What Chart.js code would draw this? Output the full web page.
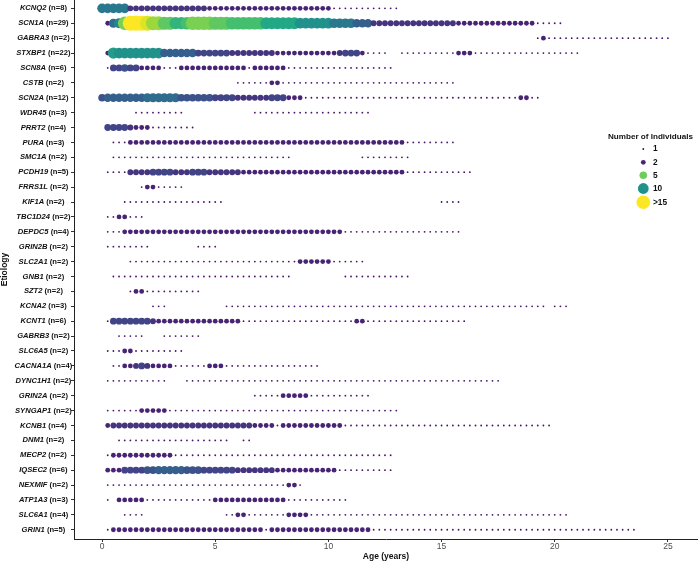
<!DOCTYPE html>
<html><head><meta charset="utf-8">
<script src="https://cdn.jsdelivr.net/npm/chart.js@4"></script>
<style>html,body{margin:0;padding:0;background:#fff;}#wrap{width:698px;height:562px;}</style>
</head><body><div id="wrap"><canvas id="c" width="698" height="562"></canvas></div>
<script>
// ---------- DATA ----------
const genes = ['KCNQ2','SCN1A','GABRA3','STXBP1','SCN8A','CSTB','SCN2A','WDR45','PRRT2','PURA','SMC1A','PCDH19','FRRS1L','KIF1A','TBC1D24','DEPDC5','GRIN2B','SLC2A1','GNB1','SZT2','KCNA2','KCNT1','GABRB3','SLC6A5','CACNA1A','DYNC1H1','GRIN2A','SYNGAP1','KCNB1','DNM1','MECP2','IQSEC2','NEXMIF','ATP1A3','SLC6A1','GRIN1'];
const nIndividuals = [8,29,2,22,6,2,12,3,4,3,2,5,2,2,2,4,2,2,2,2,3,6,2,2,4,2,2,2,4,2,2,6,2,3,4,5];
// age (in quarter-years) of the first dot of each row
const firstQuarter = [0,1,77,1,1,24,0,6,1,2,2,1,7,4,1,1,1,5,2,5,9,1,3,1,2,1,27,1,1,3,1,1,1,1,4,1];
// number of individuals at each successive quarter-year (base-36 digit; '-' = no dot)
const quarterCounts = [
 '88888'+'3333333333'+'3333'+'2222222222'+'2222222222'+'22'+'1111111111'+'11',
 '279gkkkjhhffdde'+'gggg'+'fff'+'eeeeee'+'cccccc'+'aaaaaa'+'8888'+'666'+'3333333333'+'33333'+'2222222222'+'2222'+'11111',
 '12'+'1111111111'+'1111111111'+'11',
 '2b'+'aaaaaaaa'+'666666'+'444444'+'33333333'+'22222222222'+'3'+'444'+'2'+'1111'+'--'+'1111111111'+'222'+'1111111111'+'111111111',
 '1'+'44544'+'2222'+'111'+'2222222222'+'22'+'1'+'222222'+'1111111111'+'111111111',
 '111111'+'22'+'1111111111'+'1111111111'+'1111111111'+'1',
 '5'+'6666666'+'777777'+'555555'+'4444'+'333333'+'444'+'222'+'1111111111'+'1111111111'+'1111111111'+'11111111'+'22'+'11',
 '111111111'+'------------'+'1111111111'+'1111111111'+'1',
 '44443'+'222'+'11111111',
 '111'+'2222222222'+'2222222222'+'2222222222'+'2222222222'+'222222222'+'111111111',
 '1111111111'+'1111111111'+'1111111111'+'11'+'------------'+'111111111',
 '1111'+'3333'+'4444'+'333'+'444'+'333333'+'2222222222'+'2222222222'+'222222222'+'111111111111',
 '1'+'22'+'11111',
 '1111111111'+'11111111'+'----------'+'----------'+'----------'+'--------'+'1111',
 '11'+'22'+'111',
 '111'+'2222222222'+'2222222222'+'2222222222'+'222222222'+'1111111111'+'1111111111'+'1',
 '11111111'+'--------'+'1111',
 '1111111111'+'1111111111'+'1111111111'+'222222'+'111111',
 '1111111111'+'1111111111'+'1111111111'+'11'+'---------'+'111111111111',
 '1'+'22'+'1111111111',
 '111'+'----------'+'1111111111'+'1111111111'+'1111111111'+'1111111111'+'1111111111'+'1111111'+'-'+'111',
 '1'+'4444444'+'3'+'2222222222'+'22222'+'1111111111'+'1111111111'+'22'+'1111111111'+'11111111',
 '11111'+'---'+'1111111',
 '111'+'22'+'111111111',
 '11'+'22'+'343'+'2222'+'111111'+'222'+'1111111111'+'1111111',
 '1111111111'+'1'+'---'+'1111111111'+'1111111111'+'1111111111'+'1111111111'+'1111111111'+'111111',
 '11111'+'22222'+'11111111111',
 '111111'+'22222'+'1111111111'+'1111111111'+'1111111111'+'1111111111'+'1',
 '2'+'3333333333'+'3333333333'+'33333'+'2222'+'1'+'2222222222'+'2'+'1111111111'+'1111111111'+'1111111111'+'1111111',
 '1111111111'+'1111111111'+'--'+'11',
 '1'+'2222222222'+'2'+'1111111111'+'1111111111'+'1111111111'+'111111111',
 '222'+'4444'+'55'+'66666'+'555'+'444444'+'3333333'+'2222222222'+'2'+'1111111111',
 '1111111111'+'1111111111'+'1111111111'+'11'+'22'+'1',
 '1-'+'22222'+'111111111111'+'2222222222'+'222'+'11111111111',
 '1111'+'--------------'+'11'+'22'+'1111111'+'2222'+'1111111111'+'1111111111'+'1111111111'+'1111111111'+'111111',
 '1'+'2222222222'+'2222222222'+'2222222'+'1'+'2222222222'+'22222222'+'1111111111'+'1111111111'+'1111111111'+'1111111111'+'1111111'
];
const xTickValues = [0,5,10,15,20,25];
const legendLabels = ['1','2','5','10','>15'];
const legendCounts = [1,2,5,10,16];

// ---------- STYLE ----------
const FAM = '"Liberation Sans", Arial, Helvetica, sans-serif';
const VIR = ['#440154','#482475','#414487','#355f8d','#2a788e','#21918c','#22a884','#44bf70','#7ad151','#bddf26','#fde725'];
const legendColors = ['#440154','#482475','#6ccd5a','#21918c','#fde725'];
function hex(h){return [1,3,5].map(i=>parseInt(h.substr(i,2),16));}
function viridis(t){
  t=Math.max(0,Math.min(1,t)); const p=t*10; const i=Math.min(9,Math.floor(p)); const f=p-i;
  const a=hex(VIR[i]), b=hex(VIR[i+1]);
  return 'rgb('+a.map((v,k)=>Math.round(v+(b[k]-v)*f)).join(',')+')';
}
const colorFor = c => viridis(c/20);
const radiusFor = c => c <= 1 ? 0.9 : 1.7*Math.sqrt(c);
const zeroPad = s => { s.paddingLeft = 0; s.paddingRight = 0; s.paddingTop = 0; s.paddingBottom = 0; };

// ---------- POINTS ----------
const points = [];
genes.forEach((g,row)=>{
  const s = quarterCounts[row];
  for (let k=0;k<s.length;k++){
    if (s[k]==='-') continue;
    points.push({x:(firstQuarter[row]+k)/4, y:row, count:parseInt(s[k],36)});
  }
});

const rowLabels = {
  id:'rowLabels',
  afterDraw(chart){
    const {ctx} = chart; const y = chart.scales.y;
    ctx.save(); ctx.fillStyle='#111'; ctx.textBaseline='middle'; ctx.textAlign='left';
    genes.forEach((g,i)=>{
      const py = y.getPixelForValue(i);
      const tail = ' (n='+nIndividuals[i]+')';
      ctx.font = 'bold 7.6px '+FAM; const wT = ctx.measureText(tail).width;
      ctx.font = 'italic bold 7.6px '+FAM; const wG = ctx.measureText(g).width;
      const left = 43.4 - (wT+wG)/2;
      ctx.fillText(g, left, py);
      ctx.font = 'bold 7.6px '+FAM; ctx.fillText(tail, left+wG, py);
    });
    ctx.restore();
  }
};
const sizeLegend = {
  id:'sizeLegend',
  afterDraw(chart){
    const {ctx} = chart;
    ctx.save(); ctx.fillStyle='#111'; ctx.textBaseline='middle'; ctx.textAlign='left';
    ctx.font='bold 8.1px '+FAM; ctx.fillText('Number of Individuals', 608, 137);
    const ys=[149,162.3,175.3,188.5,202.3];
    legendLabels.forEach((lab,i)=>{
      ctx.beginPath(); ctx.fillStyle=legendColors[i];
      ctx.arc(643.3, ys[i], radiusFor(legendCounts[i]), 0, Math.PI*2); ctx.fill();
      ctx.fillStyle='#111'; ctx.font='bold 8.3px '+FAM; ctx.fillText(lab, 653, ys[i]);
    });
    ctx.restore();
  }
};

new Chart(document.getElementById('c'), {
  type:'scatter',
  data:{datasets:[{
    data:points,
    pointRadius: c => radiusFor(c.raw.count),
    pointHoverRadius: c => radiusFor(c.raw.count),
    pointBackgroundColor: c => colorFor(c.raw.count),
    pointBorderWidth:0, pointHoverBorderWidth:0
  }]},
  options:{
    responsive:false, animation:false, devicePixelRatio:1, events:[],
    layout:{padding:0, autoPadding:false},
    plugins:{legend:{display:false}, tooltip:{enabled:false}},
    scales:{
      x:{type:'linear', position:'bottom', min:-1.24, max:26.33,
        afterBuildTicks: s => { s.ticks = xTickValues.map(v=>({value:v})); },
        afterFit: s => { s.height = 23; zeroPad(s); },
        grid:{display:true, drawOnChartArea:false, drawTicks:true, tickLength:3, tickColor:'#333', color:'#333'},
        border:{display:true, color:'#222', width:1},
        ticks:{color:'#4d4d4d', font:{family:FAM, size:8.5}, padding:0, maxRotation:0, autoSkip:false},
        title:{display:true, text:'Age (years)', color:'#111', font:{family:FAM, size:8.5, weight:'bold'}, padding:0}
      },
      y:{type:'linear', reverse:true, min:-0.56, max:35.62,
        afterBuildTicks: s => { s.ticks = genes.map((g,i)=>({value:i})); },
        afterFit: s => { s.width = 74; zeroPad(s); },
        grid:{display:true, drawOnChartArea:false, drawTicks:true, tickLength:3, tickColor:'#333', color:'#333'},
        border:{display:true, color:'#222', width:1},
        ticks:{display:false},
        title:{display:true, text:'Etiology', color:'#111', font:{family:FAM, size:8.5, weight:'bold'}, padding:0}
      }
    }
  },
  plugins:[rowLabels, sizeLegend]
});
</script></body></html>
